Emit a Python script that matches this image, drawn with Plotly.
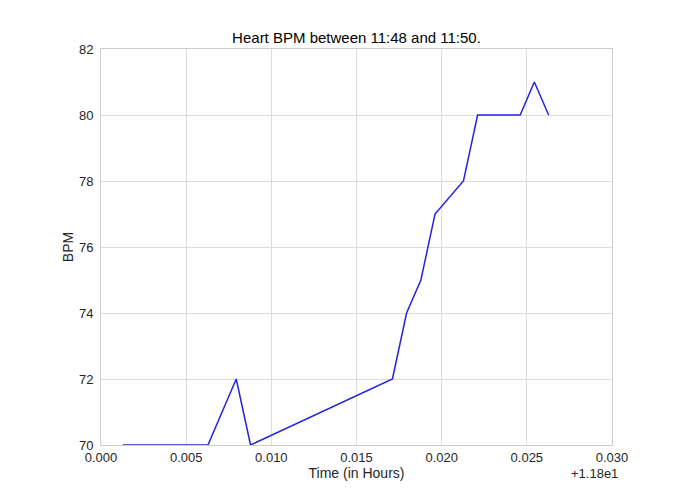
import plotly.graph_objects as go

# time offsets from 11.8 hours (axis shows +1.18e1)
time_offset = [0.00128, 0.00628, 0.00794, 0.00878, 0.01711, 0.01794, 0.01878,
               0.01961, 0.02128, 0.02211, 0.02461, 0.02544, 0.02628]
bpm = [70, 70, 72, 70, 72, 74, 75, 77, 78, 80, 80, 81, 80]

x_ticks = [0.000, 0.005, 0.010, 0.015, 0.020, 0.025, 0.030]
x_tick_labels = ['0.000', '0.005', '0.010', '0.015', '0.020', '0.025', '0.030']
y_ticks = [70, 72, 74, 76, 78, 80, 82]

text_color = '#262626'
grid_color = '#dcdcdc'
spine_color = '#cccccc'

fig = go.Figure(go.Scatter(
    x=time_offset, y=bpm, mode='lines',
    line={'color': '#2323e0', 'width': 1.5},
    showlegend=False,
))

axis_common = dict(
    showgrid=True, gridcolor=grid_color, gridwidth=1,
    showline=True, linecolor=spine_color, linewidth=1, mirror=True,
    zeroline=False, ticks='',
    tickfont={'size': 13, 'family': 'Liberation Sans, Arial', 'color': text_color},
)

# page body has an 8px margin, so the margins are shifted to compensate
fig.update_layout(
    width=695, height=494,
    margin={'l': 93, 'r': 91, 't': 41, 'b': 57},
    paper_bgcolor='white', plot_bgcolor='white',
    font={'family': 'Liberation Sans, Arial', 'color': text_color},
    title={'text': 'Heart BPM between 11:48 and 11:50.',
           'font': {'size': 15, 'color': '#000000'},
           'x': 0.5, 'xanchor': 'center', 'xref': 'paper',
           'y': 1, 'yref': 'container', 'yanchor': 'top', 'pad': {'t': 24}},
    xaxis=dict(axis_common, range=[0, 0.030], tickvals=x_ticks, ticktext=x_tick_labels,
               ticklabelstandoff=0,
               title={'text': 'Time (in Hours)', 'font': {'size': 14}, 'standoff': 4}),
    yaxis=dict(axis_common, range=[70, 82], tickvals=y_ticks, ticklabelstandoff=4,
               title={'text': 'BPM', 'font': {'size': 14}, 'standoff': 2}),
    annotations=[{
        'text': '+1.18e1', 'xref': 'paper', 'yref': 'paper',
        'x': 1.0, 'y': 0, 'xanchor': 'right', 'yanchor': 'top',
        'xshift': 8, 'yshift': -19,
        'showarrow': False, 'font': {'size': 13, 'color': text_color},
    }],
)

fig.write_html('out.html')
